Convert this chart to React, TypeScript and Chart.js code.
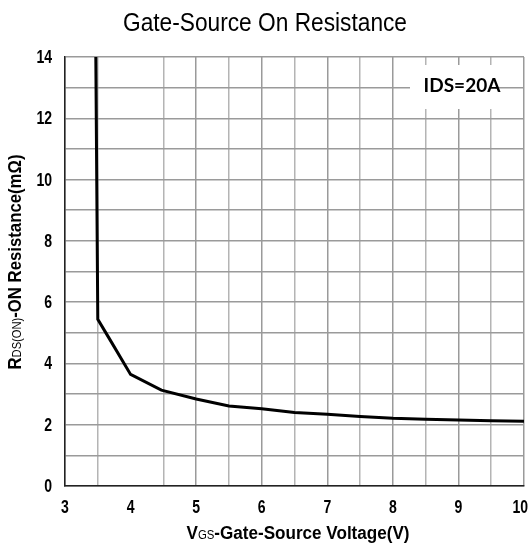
import React, { useEffect, useRef } from "react";
import { Chart, registerables } from "chart.js";

Chart.register(...registerables);

const vgsValues = [3.47, 3.5, 3.69, 4.0, 4.47, 5.0, 5.5, 6.0, 6.5, 7.0, 7.5, 8.0, 8.5, 9.0, 9.5, 10.0];
const rdsValues = [14, 5.44, 4.76, 3.64, 3.13, 2.84, 2.61, 2.52, 2.4, 2.34, 2.27, 2.21, 2.18, 2.15, 2.13, 2.11];

const xTickLabels = ["3", "4", "5", "6", "7", "8", "9", "10"];
const yTickLabels = ["0", "2", "4", "6", "8", "10", "12", "14"];

const titleText = "Gate-Source On Resistance";
const annotationText = "IDS=20A";
const xTitleParts = [
  { text: "V", big: true },
  { text: "GS", big: false },
  { text: "-Gate-Source Voltage(V)", big: true },
];
const yTitleParts = [
  { text: "R", big: true },
  { text: "DS(ON)", big: false },
  { text: "-ON Resistance(mΩ)", big: true },
];

const SANS = "'Liberation Sans', Arial, sans-serif";
const NARROW_K = 0.78;

function drawMixed(
  ctx: CanvasRenderingContext2D,
  parts: { text: string; big: boolean }[],
  x: number,
  y: number,
  rotate: boolean,
  targetWidth: number
) {
  ctx.save();
  ctx.translate(x, y);
  if (rotate) ctx.rotate(-Math.PI / 2);
  ctx.fillStyle = "#000";
  ctx.textBaseline = "alphabetic";
  ctx.textAlign = "left";
  const fontFor = (big: boolean) => (big ? `bold 18px ${SANS}` : `12px ${SANS}`);
  let total = 0;
  for (const p of parts) {
    ctx.font = fontFor(p.big);
    total += ctx.measureText(p.text).width;
  }
  const k = targetWidth / total;
  ctx.scale(k, 1);
  let cx = -total / 2;
  for (const p of parts) {
    ctx.font = fontFor(p.big);
    ctx.fillText(p.text, cx, 0);
    cx += ctx.measureText(p.text).width;
  }
  ctx.restore();
}

function drawNarrow(
  ctx: CanvasRenderingContext2D,
  text: string,
  font: string,
  x: number,
  y: number,
  align: "left" | "center" | "right",
  k: number
) {
  ctx.save();
  ctx.font = font;
  ctx.fillStyle = "#000";
  ctx.textBaseline = "alphabetic";
  ctx.textAlign = align;
  const w = ctx.measureText(text).width * k;
  let px = x;
  if (align === "center" && px + w / 2 > 528) px = 528 - w / 2;
  ctx.translate(px, y);
  ctx.scale(k, 1);
  ctx.fillText(text, 0, 0);
  ctx.restore();
}

const decorPlugin = {
  id: "decor",
  afterDraw(chart: any) {
    const ctx: CanvasRenderingContext2D = chart.ctx;
    const xs = chart.scales.x;
    const ys = chart.scales.y;
    ctx.save();
    ctx.font = `25px ${SANS}`;
    const tw = ctx.measureText(titleText).width;
    ctx.restore();
    drawNarrow(ctx, titleText, `25px ${SANS}`, 265, 31, "center", 284 / tw);
    for (const lab of xTickLabels) {
      drawNarrow(ctx, lab, `bold 18px ${SANS}`, xs.getPixelForValue(Number(lab)), 513, "center", NARROW_K);
    }
    for (const lab of yTickLabels) {
      drawNarrow(ctx, lab, `bold 18px ${SANS}`, 52, ys.getPixelForValue(Number(lab)) + 6, "right", NARROW_K);
    }
    ctx.save();
    ctx.fillStyle = "#fff";
    ctx.fillRect(410, 65, 85, 44);
    ctx.fillStyle = "#000";
    ctx.font = "bold 19px Lato, 'Open Sans', sans-serif";
    ctx.textAlign = "center";
    ctx.textBaseline = "middle";
    ctx.fillText(annotationText, 462, 86);
    ctx.restore();
    drawMixed(ctx, xTitleParts, 298, 539, false, 223);
    drawMixed(ctx, yTitleParts, 21, 262, true, 215);
  },
};

export default function App() {
  const ref = useRef<HTMLCanvasElement>(null);
  useEffect(() => {
    if (!ref.current) return;
    const chart = new Chart(ref.current, {
      type: "line",
      data: {
        datasets: [
          {
            data: vgsValues.map((v, i) => ({ x: v, y: rdsValues[i] })),
            borderColor: "#000",
            borderWidth: 3,
            pointRadius: 0,
            tension: 0,
            fill: false,
          },
        ],
      },
      options: {
        responsive: false,
        animation: false,
        layout: { padding: { top: 57, right: 5, left: 0, bottom: 0 } },
        plugins: { legend: { display: false }, tooltip: { enabled: false }, title: { display: false } },
        scales: {
          x: {
            type: "linear",
            min: 3,
            max: 10,
            afterBuildTicks: (scale: any) => {
              const t = [];
              for (let v = 3; v <= 10.001; v += 0.5) t.push({ value: Math.round(v * 10) / 10 });
              scale.ticks = t;
            },
            afterFit: (scale: any) => {
              scale.height = 67;
              scale.paddingLeft = 0;
              scale.paddingRight = 0;
            },
            ticks: { display: false, autoSkip: false },
            grid: {
              drawTicks: false,
              color: (c: any) =>
                c.tick && c.tick.value === 4
                  ? "rgba(0,0,0,0)"
                  : c.tick && Number.isInteger(c.tick.value)
                  ? "#9a9a9a"
                  : "#b4b4b4",
              lineWidth: 1.5,
            },
            border: { color: "#222", width: 1.5 },
          },
          y: {
            type: "linear",
            min: 0,
            max: 14,
            afterBuildTicks: (scale: any) => {
              const t = [];
              for (let v = 0; v <= 14; v += 1) t.push({ value: v });
              scale.ticks = t;
            },
            afterFit: (scale: any) => {
              scale.width = 65;
              scale.paddingTop = 0;
              scale.paddingBottom = 0;
            },
            ticks: { display: false, autoSkip: false },
            grid: { drawTicks: false, color: "#9a9a9a", lineWidth: 1.5 },
            border: { color: "#222", width: 1.5 },
          },
        },
      },
      plugins: [decorPlugin],
    } as any);
    return () => chart.destroy();
  }, []);
  return (
    <div style={{ position: "fixed", left: 0, top: 0, width: 529, height: 553, background: "#fff" }}>
      <canvas ref={ref} width={529} height={553} style={{ width: 529, height: 553 }} />
    </div>
  );
}
